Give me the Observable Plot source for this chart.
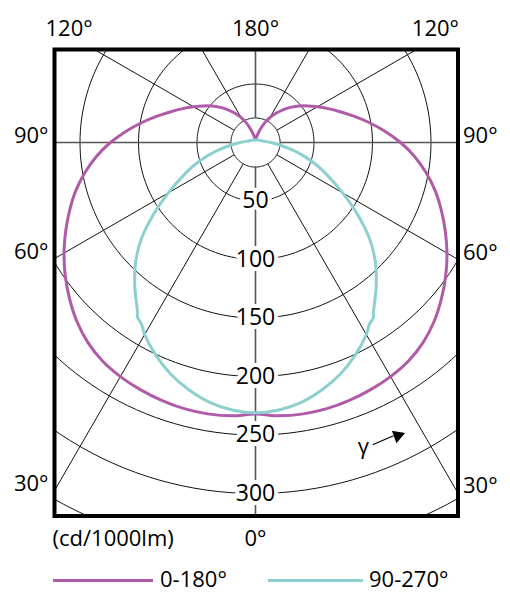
<!DOCTYPE html>
<html>
<head>
<meta charset="utf-8">
<script src="https://cdn.jsdelivr.net/npm/d3@7"></script>
<script src="https://cdn.jsdelivr.net/npm/@observablehq/plot@0.6"></script>
<style>
  html, body { margin: 0; padding: 0; background: #fff; }
  body { font-family: "Open Sans", sans-serif; width: 510px; overflow: hidden; }
  #legend { position: relative; width: 510px; height: 50px; font-size: 22px; color: #000; }
  #legend .sw { position: absolute; height: 3px; }
  #legend .lb { position: absolute; line-height: 30px; white-space: nowrap; }
</style>
</head>
<body>
<div id="chart"></div>
<div id="legend"></div>
<script>
// ---- data (cd/1000lm), gamma measured from nadir (0°) to zenith (180°) ----
const gamma0_180 = [0,5,10,15,20,25,30,35,40,45,50,55,60,65,70,75,80,85,90,95,100,105,110,115,120,125,130,135,140,145,150,155,160,165,170,175,180];
const plane0_180 = [232,234.5,235.5,235.5,234.5,233,231,228,223,216,207.5,198.5,189,179,169,159,148,136.5,124,111,98.5,87,77,68.5,61,54.5,48.5,42.5,36.5,30.5,24.5,18.5,12,7.5,4.5,3.2,3];

const gamma90_270 = [0,5,10,15,20,25,30,32,34,35,40,45,50,55,60,65,70,75,80,85,90,100,120,150,180];
const plane90_270 = [231,229.5,225.5,219,211,201,189.5,183.5,180.2,176,160.5,145,127,106,86,69,55,41.5,29,19.5,13,7,4,2.5,2];

const ringValues = [21,50,100,150,200,250,300,350,400];
const ringLabels = [50,100,150,200,250,300];
const spokeAngles = [0,30,60,90,120,150,180,210,240,270,300,330];
const sideLabels = [{text:"90°", g:90},{text:"60°", g:60},{text:"30°", g:30}];
const seriesNames = ["0-180°", "90-270°"];
const seriesColors = ["#b05ba8", "#8dd0cf"];
const unitLabel = "(cd/1000lm)";

// ---- scale extents (cd units) ----
const xDomain = [-171.8, 173.1];
const yDomain = [-319.2, 79.5];
const innerR = 21, outerR = 700;

const rad = Math.PI / 180;
const px = (r, g, s = 1) => s * r * Math.sin(g * rad);
const py = (r, g) => -r * Math.cos(g * rad);

// rings
const ringPts = [];
for (const r of ringValues) for (let a = 0; a <= 360; a += 2) ringPts.push({r, x: px(r, a), y: py(r, a)});

// spokes
const spokes = spokeAngles.map(a => ({a, x1: px(innerR, a), y1: py(innerR, a), x2: px(outerR, a), y2: py(outerR, a), axis: a % 90 === 0}));

// closed mirrored curves
function loop(gs, vs) {
  const pts = [];
  for (let i = gs.length - 1; i >= 0; i--) pts.push({x: px(vs[i], gs[i], -1), y: py(vs[i], gs[i])});
  for (let i = 1; i < gs.length; i++) pts.push({x: px(vs[i], gs[i], 1), y: py(vs[i], gs[i])});
  return pts;
}
const curveA = loop(gamma0_180, plane0_180);
const curveB = loop(gamma90_270, plane90_270);

// side angle labels where spokes meet the frame edges
const leftLab = sideLabels.map(d => ({text: d.text, x: xDomain[0], y: xDomain[0] * Math.cos(d.g * rad) / Math.sin(d.g * rad)}));
const rightLab = sideLabels.map(d => ({text: d.text, x: xDomain[1], y: -xDomain[1] * Math.cos(d.g * rad) / Math.sin(d.g * rad)}));

// gamma annotation (polar position)
const gammaSym = {r: 276, g: 19.5};
const arrowLine = {r: 277, g1: 21.2, g2: 25.2};
const arrowHead = {r: 278.5, g: 25.9};

const fs = 22;
const chart = Plot.plot({
  width: 510,
  height: 560,
  marginLeft: 54,
  marginRight: 52.5,
  marginTop: 49,
  marginBottom: 44.5,
  x: {domain: xDomain, axis: null},
  y: {domain: yDomain, axis: null},
  style: {fontFamily: "'Open Sans', sans-serif", background: "white", overflow: "visible"},
  marks: [
    Plot.line(ringPts, {x: "x", y: "y", z: "r", stroke: "#111", strokeWidth: 1, clip: "frame"}),
    Plot.link(spokes.filter(d => !d.axis), {x1: "x1", y1: "y1", x2: "x2", y2: "y2", stroke: "#111", strokeWidth: 1, clip: "frame"}),
    Plot.link(spokes.filter(d => d.axis), {x1: "x1", y1: "y1", x2: "x2", y2: "y2", stroke: "#555", strokeWidth: 1.6, clip: "frame"}),
    Plot.text(ringLabels, {x: 0, y: d => -d, text: d => String(d), fontSize: 23, fill: "black", stroke: "white", strokeWidth: 8}),
    Plot.line(curveA, {x: "x", y: "y", stroke: seriesColors[0], strokeWidth: 3, curve: "catmull-rom", clip: "frame"}),
    Plot.line(curveB, {x: "x", y: "y", stroke: seriesColors[1], strokeWidth: 3, curve: "catmull-rom", clip: "frame"}),
    Plot.frame({stroke: "black", strokeWidth: 4}),
    // gamma annotation
    Plot.text([gammaSym], {x: d => px(d.r, d.g), y: d => py(d.r, d.g), text: () => "γ", fontSize: fs, fill: "black"}),
    Plot.link([arrowLine], {x1: d => px(d.r, d.g1), y1: d => py(d.r, d.g1), x2: d => px(d.r, d.g2), y2: d => py(d.r, d.g2), stroke: "black", strokeWidth: 1.2}),
    Plot.dot([arrowHead], {x: d => px(d.r, d.g), y: d => py(d.r, d.g), symbol: "triangle", r: 5, fill: "black", rotate: 70}),
    // angle labels
    Plot.text(leftLab, {x: "x", y: "y", text: "text", fontSize: fs, textAnchor: "end", dx: -6, dy: -7, fill: "black"}),
    Plot.text(rightLab, {x: "x", y: "y", text: "text", fontSize: fs, textAnchor: "start", dx: 5, dy: -7, fill: "black"}),
    Plot.text(["180°"], {x: 0, y: yDomain[1], text: d => d, fontSize: fs, dy: -21, fill: "black"}),
    Plot.text(["120°"], {x: xDomain[0], y: yDomain[1], text: d => d, fontSize: fs, textAnchor: "start", dx: -9, dy: -21, fill: "black"}),
    Plot.text(["120°"], {x: xDomain[1], y: yDomain[1], text: d => d, fontSize: fs, textAnchor: "end", dx: 1, dy: -21, fill: "black"}),
    Plot.text(["0°"], {x: 0, y: yDomain[0], text: d => d, fontSize: fs, dy: 22.5, fill: "black"}),
    Plot.text([unitLabel], {x: xDomain[0], y: yDomain[0], text: d => d, fontSize: fs, textAnchor: "start", dx: -2, dy: 22.5, fill: "black"})
  ]
});
document.getElementById("chart").appendChild(chart);

// legend
const lg = document.getElementById("legend");
const items = [
  {sw: 53, w: 100, lb: 160},
  {sw: 268, w: 95, lb: 369}
];
items.forEach((it, i) => {
  const s = document.createElement("div");
  s.className = "sw";
  s.style.left = it.sw + "px"; s.style.top = "18.5px"; s.style.width = it.w + "px";
  s.style.background = seriesColors[i];
  lg.appendChild(s);
  const t = document.createElement("span");
  t.className = "lb";
  t.style.left = it.lb + "px"; t.style.top = "3px";
  t.textContent = seriesNames[i];
  lg.appendChild(t);
});
</script>
</body>
</html>
